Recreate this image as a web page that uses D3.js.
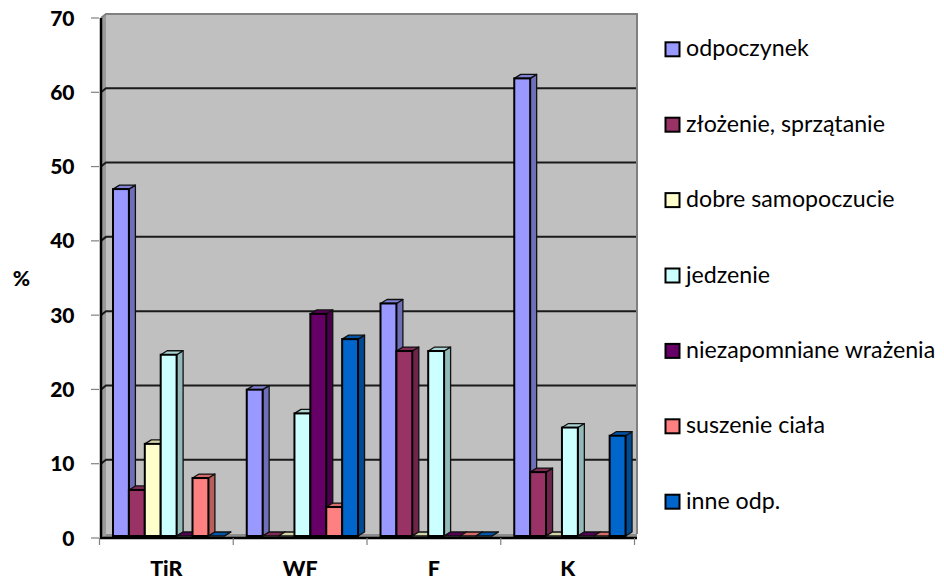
<!DOCTYPE html>
<html><head><meta charset="utf-8">
<script src="https://cdn.jsdelivr.net/npm/d3@7"></script>
<style>body{margin:0;background:#fff}svg{display:block}</style>
</head><body>
<svg id="c" width="944" height="579"></svg>
<script>
const categories = ["TiR", "WF", "F", "K"];
const seriesNames = ["odpoczynek", "złożenie, sprzątanie", "dobre samopoczucie", "jedzenie", "niezapomniane wrażenia", "suszenie ciała", "inne odp."];
const seriesColors = ["#9999FF", "#993366", "#FFFFCC", "#CCFFFF", "#660066", "#FF8080", "#0066CC"];
// values[series][category]
const odpoczynek = [46.7, 19.7, 31.3, 61.6];
const zlozenie   = [6.2, 0, 24.9, 8.6];
const dobre      = [12.4, 0, 0, 0];
const jedzenie   = [24.4, 16.5, 24.9, 14.6];
const niezap     = [0, 29.9, 0, 0];
const suszenie   = [7.8, 3.9, 0, 0];
const inne       = [0, 26.5, 0, 13.5];
const values = [odpoczynek, zlozenie, dobre, jedzenie, niezap, suszenie, inne];
const yTicks = [0, 10, 20, 30, 40, 50, 60, 70];

const svg = d3.select("#c");
const FONT = "Lato, 'Open Sans', sans-serif";

// geometry
const frontLeft = 101, backLeft = 106, right = 637;
const yFront = d3.scaleLinear().domain([0, 70]).range([538, 18]);
const yBack  = d3.scaleLinear().domain([0, 70]).range([534, 14]);
const yBar   = d3.scaleLinear().domain([0, 70]).range([536, 16]);
const x0 = d3.scaleBand().domain(categories).range([99.5, 634.5]).paddingInner(0).paddingOuter(0);
const x1 = d3.scaleBand().domain(seriesNames).range([13.5, 13.5 + 111.3]).padding(0);
const dx = 6.5, dy = -4;

// back wall
svg.append("rect").attr("x", backLeft).attr("y", yBack(70)).attr("width", right - backLeft)
  .attr("height", yBack(0) - yBack(70)).attr("fill", "#C0C0C0");
// left wall
svg.append("polygon").attr("points", [[frontLeft, yFront(70)], [backLeft, yBack(70)], [backLeft, yBack(0)], [frontLeft, yFront(0)]].join(" "))
  .attr("fill", "#9A9A9A");
// floor
svg.append("polygon").attr("points", [[frontLeft, yFront(0)], [backLeft, yBack(0)], [right, yBack(0)], [right, yFront(0)]].join(" "))
  .attr("fill", "#8C8C8C");
// gridlines
yTicks.filter(v => v > 0 && v < 70).forEach(v => {
  svg.append("polyline").attr("points", [[frontLeft, yFront(v)], [backLeft, yBack(v)], [right, yBack(v)]].join(" "))
    .attr("fill", "none").attr("stroke", "#1a1a1a").attr("stroke-width", 2);
});
// top & right wall borders
svg.append("polyline").attr("points", [[frontLeft, yFront(70)], [backLeft, yBack(70)], [right, yBack(70)], [right, yBack(0)]].join(" "))
  .attr("fill", "none").attr("stroke", "#808080").attr("stroke-width", 2);

// bars
categories.forEach((cat, ci) => {
  seriesNames.forEach((s, si) => {
    const v = values[si][ci];
    const xl = x0(cat) + x1(s), w = x1.bandwidth();
    const yt = yBar(v), yb = yBar(0);
    const col = d3.color(seriesColors[si]);
    const side = col.darker(0.9), top = col.darker(0.5);
    const g = svg.append("g");
    // side face
    g.append("polygon").attr("points", [[xl + w, yt], [xl + w + dx, yt + dy], [xl + w + dx, yb + dy], [xl + w, yb]].join(" "))
      .attr("fill", side).attr("stroke", "#111").attr("stroke-width", 1.3).attr("stroke-linejoin", "round");
    // top face
    g.append("polygon").attr("points", [[xl, yt], [xl + dx, yt + dy], [xl + w + dx, yt + dy], [xl + w, yt]].join(" "))
      .attr("fill", top).attr("stroke", "#111").attr("stroke-width", 1.3).attr("stroke-linejoin", "round");
    // front face
    if (v > 0) {
      g.append("rect").attr("x", xl).attr("y", yt).attr("width", w).attr("height", yb - yt)
        .attr("fill", col).attr("stroke", "#000").attr("stroke-width", 2);
    }
  });
});

// front axis line + ticks
svg.append("line").attr("x1", frontLeft).attr("x2", frontLeft).attr("y1", yFront(70)).attr("y2", yFront(0) + 1)
  .attr("stroke", "#000").attr("stroke-width", 2.5);
svg.append("line").attr("x1", frontLeft - 1).attr("x2", right).attr("y1", yFront(0)).attr("y2", yFront(0))
  .attr("stroke", "#000").attr("stroke-width", 2.5);
yTicks.forEach(v => {
  svg.append("line").attr("x1", 91).attr("x2", 99).attr("y1", yFront(v)).attr("y2", yFront(v))
    .attr("stroke", "#808080").attr("stroke-width", 1.2);
  svg.append("text").attr("x", 74.5).attr("y", yFront(v)).attr("dy", "0.36em").attr("text-anchor", "end")
    .attr("font-family", FONT).attr("font-weight", "900").attr("font-size", 21).text(v);
});
const catTicks = [99.5].concat(categories.map(c => x0(c) + x0.bandwidth()));
catTicks.forEach(x => {
  svg.append("line").attr("x1", x).attr("x2", x).attr("y1", yFront(0)).attr("y2", yFront(0) + 7)
    .attr("stroke", "#808080").attr("stroke-width", 1.2);
});
categories.forEach(c => {
  svg.append("text").attr("x", x0(c) + x0.bandwidth() / 2).attr("y", 575.5).attr("text-anchor", "middle")
    .attr("font-family", FONT).attr("font-weight", "900").attr("font-size", 21.5).text(c);
});
svg.append("text").attr("x", 21.5).attr("y", 278).attr("dy", "0.36em").attr("text-anchor", "middle")
  .attr("font-family", FONT).attr("font-weight", "900").attr("font-size", 21).text("%");

// legend
const leg = svg.append("g");
seriesNames.forEach((s, i) => {
  const cy = 49.3 + i * 75.4;
  leg.append("rect").attr("x", 665.5).attr("y", cy - 7).attr("width", 14).attr("height", 14)
    .attr("fill", seriesColors[i]).attr("stroke", "#000").attr("stroke-width", 2);
  leg.append("text").attr("x", 686).attr("y", cy + 7).attr("font-family", FONT).attr("font-size", 23.2).text(s);
});
</script>
</body></html>
